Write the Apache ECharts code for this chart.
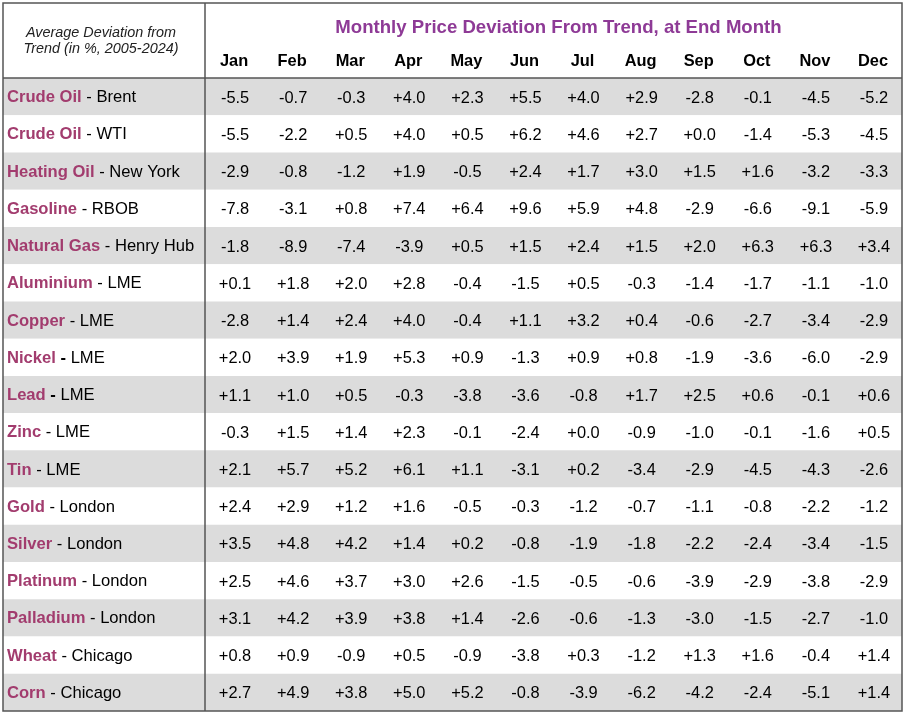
<!DOCTYPE html>
<html>
<head>
<meta charset="utf-8">
<script src="https://cdn.jsdelivr.net/npm/echarts@6/dist/echarts.min.js"></script>
<style>
  html, body { margin: 0; padding: 0; background: #fff; }
  #main { width: 908px; height: 715px; }
</style>
</head>
<body>
<div id="main"></div>
<script>
// =============================数据===============================

const months = ['Jan', 'Feb', 'Mar', 'Apr', 'May', 'Jun', 'Jul', 'Aug', 'Sep', 'Oct', 'Nov', 'Dec'];

const commodities = ['Crude Oil', 'Crude Oil', 'Heating Oil', 'Gasoline', 'Natural Gas', 'Aluminium', 'Copper',
    'Nickel', 'Lead', 'Zinc', 'Tin', 'Gold', 'Silver', 'Platinum', 'Palladium', 'Wheat', 'Corn'];
const markets = ['Brent', 'WTI', 'New York', 'RBOB', 'Henry Hub', 'LME', 'LME',
    'LME', 'LME', 'LME', 'LME', 'London', 'London', 'London', 'London', 'Chicago', 'Chicago'];

// 每行 12 个月的偏离值 (%)
const deviations = [
    [-5.5, -0.7, -0.3, 4.0, 2.3, 5.5, 4.0, 2.9, -2.8, -0.1, -4.5, -5.2],
    [-5.5, -2.2, 0.5, 4.0, 0.5, 6.2, 4.6, 2.7, 0.0, -1.4, -5.3, -4.5],
    [-2.9, -0.8, -1.2, 1.9, -0.5, 2.4, 1.7, 3.0, 1.5, 1.6, -3.2, -3.3],
    [-7.8, -3.1, 0.8, 7.4, 6.4, 9.6, 5.9, 4.8, -2.9, -6.6, -9.1, -5.9],
    [-1.8, -8.9, -7.4, -3.9, 0.5, 1.5, 2.4, 1.5, 2.0, 6.3, 6.3, 3.4],
    [0.1, 1.8, 2.0, 2.8, -0.4, -1.5, 0.5, -0.3, -1.4, -1.7, -1.1, -1.0],
    [-2.8, 1.4, 2.4, 4.0, -0.4, 1.1, 3.2, 0.4, -0.6, -2.7, -3.4, -2.9],
    [2.0, 3.9, 1.9, 5.3, 0.9, -1.3, 0.9, 0.8, -1.9, -3.6, -6.0, -2.9],
    [1.1, 1.0, 0.5, -0.3, -3.8, -3.6, -0.8, 1.7, 2.5, 0.6, -0.1, 0.6],
    [-0.3, 1.5, 1.4, 2.3, -0.1, -2.4, 0.0, -0.9, -1.0, -0.1, -1.6, 0.5],
    [2.1, 5.7, 5.2, 6.1, 1.1, -3.1, 0.2, -3.4, -2.9, -4.5, -4.3, -2.6],
    [2.4, 2.9, 1.2, 1.6, -0.5, -0.3, -1.2, -0.7, -1.1, -0.8, -2.2, -1.2],
    [3.5, 4.8, 4.2, 1.4, 0.2, -0.8, -1.9, -1.8, -2.2, -2.4, -3.4, -1.5],
    [2.5, 4.6, 3.7, 3.0, 2.6, -1.5, -0.5, -0.6, -3.9, -2.9, -3.8, -2.9],
    [3.1, 4.2, 3.9, 3.8, 1.4, -2.6, -0.6, -1.3, -3.0, -1.5, -2.7, -1.0],
    [0.8, 0.9, -0.9, 0.5, -0.9, -3.8, 0.3, -1.2, 1.3, 1.6, -0.4, 1.4],
    [2.7, 4.9, 3.8, 5.0, 5.2, -0.8, -3.9, -6.2, -4.2, -2.4, -5.1, 1.4]
];

// 分隔符为粗体的行
const boldDashRows = [7, 8];

// =============================构建===============================

const rowLabels = commodities.map((c, i) => i + '|' + c + '|' + markets[i]);

const cells = [];
deviations.forEach((row, r) => {
    row.forEach((v, c) => cells.push([c, r, v]));
});

function fmt(v) {
    return (v >= 0 ? '+' : '') + v.toFixed(1);
}

const FONT = '"Liberation Sans", Arial, Helvetica, sans-serif';
const TOP = 78, BOTTOM = 4, DIV = 205, RIGHT = 6;
const zebra = ['#dcdcdc', '#ffffff'];
const NAME_SIZE = 16.6;

let option = {
    animation: false,
    backgroundColor: '#ffffff',
    textStyle: { fontFamily: FONT },
    title: [
        {
            text: 'Monthly Price Deviation From Trend, at End Month',
            left: (DIV + 908 - RIGHT) / 2,
            textAlign: 'center',
            top: 13,
            textStyle: { color: '#8e3a96', fontSize: 18.6, fontWeight: 'bold', fontFamily: FONT }
        },
        {
            text: 'Average Deviation from\nTrend (in %, 2005-2024)',
            left: 96,
            textAlign: 'center',
            top: 20,
            textStyle: { color: '#222', fontSize: 14.4, fontStyle: 'italic', fontWeight: 'normal',
                lineHeight: 16, fontFamily: FONT }
        }
    ],
    grid: [
        { left: 3, top: TOP, width: DIV - 3, bottom: BOTTOM },
        { left: DIV, top: TOP, right: RIGHT, bottom: BOTTOM }
    ],
    xAxis: [
        { gridIndex: 0, type: 'category', data: [''], show: false },
        {
            gridIndex: 1, type: 'category', data: months, position: 'top',
            axisLine: { show: false }, axisTick: { show: false },
            axisLabel: { color: '#000', fontSize: 16.4, fontWeight: 'bold', margin: 9, fontFamily: FONT }
        }
    ],
    yAxis: [
        {
            gridIndex: 0, type: 'category', data: rowLabels, inverse: true,
            axisLine: { show: false }, axisTick: { show: false },
            splitArea: { show: true, areaStyle: { color: zebra } },
            axisLabel: {
                inside: true, margin: 4, align: 'left',
                formatter: function (val) {
                    const p = val.split('|');
                    const dash = boldDashRows.indexOf(+p[0]) >= 0 ? '{bd| -}' : '{m| -}';
                    return '{c|' + p[1] + '}' + dash + '{m| ' + p[2] + '}';
                },
                rich: {
                    c: { color: '#a23c6e', fontSize: NAME_SIZE, fontWeight: 'bold', fontFamily: FONT, padding: [2, 0, 0, 0] },
                    m: { color: '#000', fontSize: NAME_SIZE, fontFamily: FONT, padding: [2, 0, 0, 0] },
                    bd: { color: '#000', fontSize: NAME_SIZE, fontWeight: 'bold', fontFamily: FONT, padding: [2, 0, 0, 0] }
                }
            }
        },
        {
            gridIndex: 1, type: 'category', data: rowLabels, inverse: true,
            axisLine: { show: false }, axisTick: { show: false }, axisLabel: { show: false },
            splitArea: { show: true, areaStyle: { color: zebra } }
        }
    ],
    series: [
        {
            type: 'custom',
            xAxisIndex: 1,
            yAxisIndex: 1,
            data: cells,
            renderItem: function (params, api) {
                const p = api.coord([api.value(0), api.value(1)]);
                return {
                    type: 'text',
                    x: p[0] + 1, y: p[1] + 1.5,
                    style: {
                        text: fmt(api.value(2)),
                        fill: '#000',
                        font: '16.4px ' + FONT,
                        align: 'center',
                        verticalAlign: 'middle'
                    }
                };
            }
        }
    ],
    graphic: [
        {
            type: 'rect', z: 100, silent: true,
            shape: { x: 3, y: 3, width: 908 - RIGHT - 3, height: 715 - BOTTOM - 3 },
            style: { fill: 'none', stroke: '#555', lineWidth: 1.5 }
        },
        {
            type: 'line', z: 100, silent: true,
            shape: { x1: DIV, y1: 3, x2: DIV, y2: 715 - BOTTOM },
            style: { stroke: '#555', lineWidth: 1.5 }
        },
        {
            type: 'line', z: 100, silent: true,
            shape: { x1: 3, y1: TOP, x2: 908 - RIGHT, y2: TOP },
            style: { stroke: '#555', lineWidth: 1.5 }
        }
    ]
};

// =============================设置属性===============================

echarts.init(document.getElementById('main')).setOption(option);
</script>
</body>
</html>
